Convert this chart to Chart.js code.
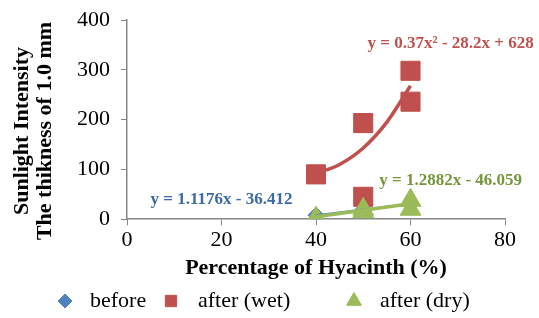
<!DOCTYPE html>
<html>
<head>
<meta charset="utf-8">
<script src="https://cdn.jsdelivr.net/npm/chart.js@4"></script>
<style>
  body { margin: 0; background: #fff; }
  #wrap { width: 539px; height: 318px; }
</style>
</head>
<body>
<div id="wrap"><canvas id="chart"></canvas></div>
<script>
// values
const beforeX = [40, 50, 60];
const beforeY = [8, 20, 30];
const wetX = [40, 50, 50, 60, 60];
const wetY = [90, 45, 193, 298, 236];
const dryX = [40, 50, 50, 60, 60];
const dryY = [2, 15, 20, 38, 20];

// trendlines as drawn in the picture
const beforeTrendX = [40, 60];
const beforeTrendY = [8, 31];
const wetTrendX = [40, 45, 50, 55, 60];
const wetTrendY = [92, 110, 143, 195, 268];
const dryTrendX = [40, 60];
const dryTrendY = [5, 31];

const yTitle = ["Sunlight Intensity", "The thikness of 1.0 mm"];

const equations = [
  { text: "y = 1.1176x - 36.412", x: 20, y: 40, color: "#3C6AA5" },
  { text: "y = 0.37x\u00b2 - 28.2x + 628", x: 68.5, y: 353, color: "#C0504D" },
  { text: "y = 1.2882x - 46.059", x: 68.5, y: 78, color: "#77953A" },
];

function pts(xs, ys) {
  return xs.map((x, i) => ({ x: x, y: ys[i] }));
}

const font = "'Liberation Serif', 'Times New Roman', serif";

// equation labels, the rotated y title and the legend
const extras = {
  id: "extras",
  afterDatasetsDraw(chart) {
    const ctx = chart.ctx;
    ctx.save();
    ctx.font = "bold 17px " + font;
    ctx.textAlign = "center";
    ctx.textBaseline = "middle";
    equations.forEach((e) => {
      ctx.fillStyle = e.color;
      ctx.fillText(e.text, chart.scales.x.getPixelForValue(e.x), chart.scales.y.getPixelForValue(e.y));
    });

    ctx.fillStyle = "#000";
    ctx.font = "bold 22px " + font;
    ctx.translate(0, 131);
    ctx.rotate(-Math.PI / 2);
    ctx.fillText(yTitle[0], 0, 22);
    ctx.fillText(yTitle[1], 0, 45);
    ctx.restore();

    ctx.save();
    ctx.font = "22px " + font;
    ctx.textAlign = "left";
    ctx.textBaseline = "middle";
    const items = [
      { ds: 3, mx: 65, tx: 90, r: 7 },
      { ds: 4, mx: 171, tx: 198, r: 8 },
      { ds: 5, mx: 354, tx: 380, r: 8.5 },
    ];
    items.forEach((it) => {
      const ds = chart.data.datasets[it.ds];
      ctx.fillStyle = ds.backgroundColor;
      ctx.strokeStyle = ds.borderColor;
      Chart.helpers.drawPoint(ctx, { pointStyle: ds.pointStyle, radius: it.r, borderWidth: 1 }, it.mx, 301);
      ctx.fillStyle = "#000";
      ctx.fillText(ds.label, it.tx, 301);
    });
    ctx.restore();
  },
};

new Chart(document.getElementById("chart"), {
  type: "scatter",
  data: {
    datasets: [
      {
        label: "trend before",
        data: pts(beforeTrendX, beforeTrendY),
        showLine: true,
        borderColor: "#4F81BD",
        borderWidth: 2,
        pointRadius: 0,
        order: 3,
      },
      {
        label: "trend wet",
        data: pts(wetTrendX, wetTrendY),
        showLine: true,
        borderColor: "#C0504D",
        borderWidth: 3.5,
        pointRadius: 0,
        tension: 0.4,
        cubicInterpolationMode: "monotone",
        order: 1,
      },
      {
        label: "trend dry",
        data: pts(dryTrendX, dryTrendY),
        showLine: true,
        borderColor: "#9BBB59",
        borderWidth: 3.5,
        pointRadius: 0,
        order: 2,
      },
      {
        label: "before",
        data: pts(beforeX, beforeY),
        pointStyle: "rectRot",
        pointRadius: 8,
        backgroundColor: "#4F81BD",
        borderColor: "#4F81BD",
        order: 6,
      },
      {
        label: "after (wet)",
        data: pts(wetX, wetY),
        pointStyle: "rect",
        pointRadius: 13.5,
        backgroundColor: "#C0504D",
        borderColor: "#C0504D",
        order: 5,
      },
      {
        label: "after (dry)",
        data: pts(dryX, dryY),
        pointStyle: "triangle",
        pointRadius: 12,
        backgroundColor: "#9BBB59",
        borderColor: "#9BBB59",
        order: 4,
      },
    ],
  },
  options: {
    responsive: true,
    maintainAspectRatio: false,
    animation: false,
    layout: { padding: { left: 74, right: 34, top: 20, bottom: 36 } },
    plugins: {
      tooltip: { enabled: false },
      legend: { display: false },
    },
    scales: {
      x: {
        type: "linear",
        min: 0,
        max: 80,
        ticks: { stepSize: 20, color: "#000", font: { family: font, size: 22 }, padding: 2 },
        grid: { display: true, drawOnChartArea: false, drawTicks: true, tickLength: 6, color: "#868686" },
        border: { color: "#868686", width: 1.5 },
        title: {
          display: true,
          text: "Percentage of Hyacinth (%)",
          color: "#000",
          font: { family: font, size: 22, weight: "bold" },
          padding: { top: 0, bottom: 0 },
        },
      },
      y: {
        min: 0,
        max: 400,
        afterFit: (scale) => { scale.width = 53; },
        ticks: { stepSize: 100, color: "#000", font: { family: font, size: 22, lineHeight: 0.5 }, padding: 11 },
        grid: { display: true, drawOnChartArea: false, drawTicks: true, tickLength: 6, color: "#868686" },
        border: { color: "#868686", width: 1.5 },
      },
    },
  },
  plugins: [extras],
});
</script>
</body>
</html>
